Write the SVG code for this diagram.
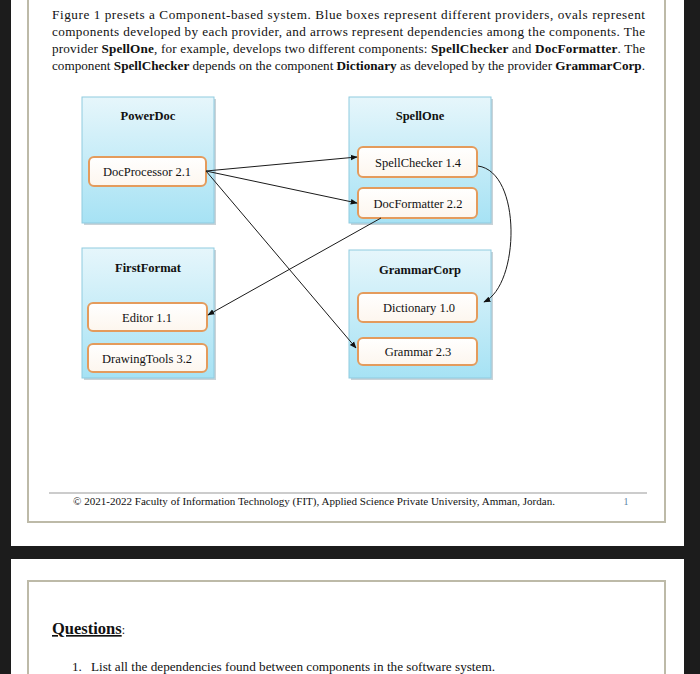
<svg xmlns="http://www.w3.org/2000/svg" width="700" height="674" viewBox="0 0 700 674">
<defs>
<linearGradient id="prov" x1="0" y1="0" x2="0" y2="1">
<stop offset="0" stop-color="#e6f6fb"/>
<stop offset="1" stop-color="#a6e2f4"/>
</linearGradient>
<linearGradient id="comp" x1="0" y1="0" x2="0" y2="1">
<stop offset="0" stop-color="#ffffff"/>
<stop offset="1" stop-color="#fdf6ee"/>
</linearGradient>
<marker id="arr" viewBox="0 0 10 10" refX="9" refY="5" markerWidth="7" markerHeight="7" orient="auto" markerUnits="userSpaceOnUse">
<path d="M0,1 L10,5 L0,9 z" fill="#111"/>
</marker>
</defs>
<style>
text{font-family:"Times New Roman","Liberation Serif",Tinos,Times,serif;fill:#111}
.para{font-size:13.2px}
.b{font-weight:bold}
.prov{fill:url(#prov);stroke:#8fcbe0;stroke-width:1}
.shadow{fill:#c9d3d8}
.comp{fill:url(#comp);stroke:#e49b5c;stroke-width:2}
.ptitle{font-size:12.5px;font-weight:bold;text-anchor:middle}
.clabel{font-size:12.5px;text-anchor:middle}
.conn{stroke:#1a1a1a;stroke-width:1;fill:none;marker-end:url(#arr)}
.border{fill:none;stroke:#bdbaa8;stroke-width:2}
</style>
<rect x="0" y="0" width="700" height="674" fill="#1c1c1c"/>
<rect x="11" y="0" width="673" height="546" fill="#ffffff"/>
<rect x="11" y="559" width="673" height="115" fill="#ffffff"/>
<rect x="28" y="-5" width="637" height="527" class="border"/>
<rect x="28" y="581" width="637" height="110" class="border"/>

<g id="paragraph" class="para">
<text x="52" y="19" textLength="593" lengthAdjust="spacing">Figure 1 presets a Component-based system. Blue boxes represent different providers, ovals represent</text>
<text x="52" y="36" textLength="593" lengthAdjust="spacing">components developed by each provider, and arrows represent dependencies among the components. The</text>
<text x="52" y="53" textLength="593" lengthAdjust="spacing">provider <tspan class="b">SpellOne</tspan>, for example, develops two different components: <tspan class="b">SpellChecker</tspan> and <tspan class="b">DocFormatter</tspan>. The</text>
<text x="52" y="70" textLength="593" lengthAdjust="spacing">component <tspan class="b">SpellChecker</tspan> depends on the component <tspan class="b">Dictionary</tspan> as developed by the provider <tspan class="b">GrammarCorp</tspan>.</text>
</g>

<g id="PowerDoc">
<rect x="84" y="99" width="132" height="126" class="shadow"/>
<rect x="82" y="97" width="132" height="126" class="prov"/>
<text x="148" y="120" class="ptitle">PowerDoc</text>
</g>
<g id="SpellOne">
<rect x="351" y="99" width="142" height="126" class="shadow"/>
<rect x="349" y="97" width="142" height="126" class="prov"/>
<text x="420" y="120" class="ptitle">SpellOne</text>
</g>
<g id="FirstFormat">
<rect x="84" y="250" width="132" height="130" class="shadow"/>
<rect x="82" y="248" width="132" height="130" class="prov"/>
<text x="148" y="272" class="ptitle">FirstFormat</text>
</g>
<g id="GrammarCorp">
<rect x="351" y="252" width="142" height="128" class="shadow"/>
<rect x="349" y="250" width="142" height="128" class="prov"/>
<text x="420" y="274" class="ptitle">GrammarCorp</text>
</g>

<g id="DocProcessor">
<rect x="89" y="157" width="117" height="29" rx="5" class="comp"/>
<text x="147" y="176" class="clabel">DocProcessor 2.1</text>
</g>
<g id="SpellChecker">
<rect x="358" y="147" width="119" height="30" rx="5" class="comp"/>
<text x="418" y="167" class="clabel">SpellChecker 1.4</text>
</g>
<g id="DocFormatter">
<rect x="358" y="188" width="119" height="30" rx="5" class="comp"/>
<text x="418" y="208" class="clabel">DocFormatter 2.2</text>
</g>
<g id="Editor">
<rect x="88" y="303" width="119" height="28" rx="5" class="comp"/>
<text x="147" y="322" class="clabel">Editor 1.1</text>
</g>
<g id="DrawingTools">
<rect x="88" y="344" width="119" height="28" rx="5" class="comp"/>
<text x="147" y="363" class="clabel">DrawingTools 3.2</text>
</g>
<g id="Dictionary">
<rect x="358" y="293" width="119" height="29" rx="5" class="comp"/>
<text x="419" y="312" class="clabel">Dictionary 1.0</text>
</g>
<g id="Grammar">
<rect x="358" y="338" width="119" height="27" rx="5" class="comp"/>
<text x="418" y="356" class="clabel">Grammar 2.3</text>
</g>

<g id="connectors">
<path d="M206,171 L357,157" class="conn"/>
<path d="M206,171 L357,203" class="conn"/>
<path d="M206,171 L356,348" class="conn"/>
<path d="M381,218 L208,315" class="conn"/>
<path d="M478,166 C522,172 520,285 484,302" class="conn"/>
</g>

<g id="footer">
<line x1="49" y1="493" x2="647" y2="493" stroke="#9a9a9a" stroke-width="1.2"/>
<text x="73" y="505" font-size="10px" textLength="482" lengthAdjust="spacingAndGlyphs">© 2021-2022 Faculty of Information Technology (FIT), Applied Science Private University, Amman, Jordan.</text>
<text x="626" y="505" font-size="10px" style="fill:#5d84a6" text-anchor="middle">1</text>
</g>

<g id="questions">
<text x="52" y="634" font-size="16.5px"><tspan font-weight="bold" text-decoration="underline">Questions</tspan><tspan font-size="12px">:</tspan></text>
<text x="72" y="671" font-size="13.2px">1.</text>
<text x="91" y="671" font-size="13.2px">List all the dependencies found between components in the software system.</text>
</g>
</svg>
